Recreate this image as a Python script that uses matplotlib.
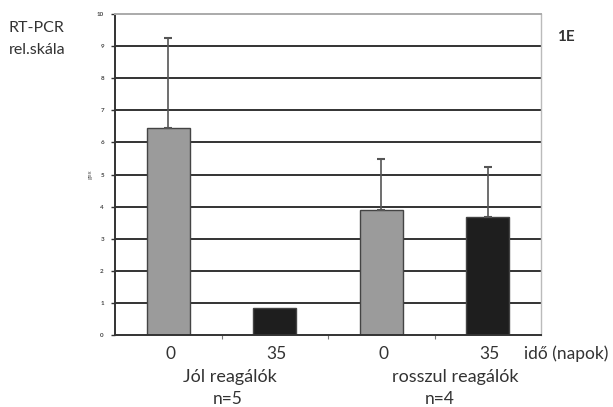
import matplotlib.pyplot as plt
import numpy as np

days = ["0", "35", "0", "35"]
means = [6.45, 0.85, 3.9, 3.68]
err_top = [9.25, None, 5.48, 5.23]
colors = ["#9b9b9b", "#1e1e1e", "#9b9b9b", "#1e1e1e"]
groups = ["Jól reagálók", "rosszul reagálók"]
ns = ["n=5", "n=4"]

plt.rcParams["font.family"] = ["Lato", "DejaVu Sans"]

fig = plt.figure(figsize=(6.13, 4.07), dpi=100)
ax = fig.add_axes([0.1876, 0.1769, 0.695, 0.7887])

x = np.arange(len(means))
yerr = [0 if e is None else e - m for m, e in zip(means, err_top)]

for y in range(1, 10):
    ax.axhline(y, color="#333333", lw=1.4, zorder=1)

ax.bar(x, means, width=0.4, color=colors, edgecolor="#444444", lw=1, zorder=2)
for xi, m, e in zip(x, means, yerr):
    if e > 0:
        ax.errorbar(xi, m, yerr=[[0], [e]], fmt="none", ecolor="#555555",
                    elinewidth=1.2, capsize=3, capthick=1.5, zorder=3)

ax.set_xlim(-0.5, 3.5)
ax.set_ylim(0, 10)
ax.set_yticks(range(0, 11))
ax.tick_params(axis="y", labelsize=4.5, labelcolor="#444444", length=3, width=1,
               color="#333333", pad=5)
for lab in ax.get_yticklabels():
    lab.set_fontweight("bold")
ax.set_xticks([0.5, 1.5, 2.5])
ax.set_xticklabels([])
ax.tick_params(axis="x", length=3, width=0.8, color="#777777")
ax.set_ylabel("gex", fontsize=4.5, color="#555555", labelpad=3)

ax.spines["left"].set_color("#333333")
ax.spines["left"].set_linewidth(1.4)
ax.spines["bottom"].set_color("#333333")
ax.spines["bottom"].set_linewidth(1.4)
ax.spines["top"].set_color("#aaaaaa")
ax.spines["top"].set_linewidth(1.4)
ax.spines["right"].set_color("#bbbbbb")
ax.spines["right"].set_linewidth(1)

tc = "#333333"
for xi, d in zip(x, days):
    ax.text(xi + 0.02, -0.6, d, ha="center", va="center", fontsize=12.5, color=tc)
fig.text(608 / 613, 1 - 354 / 407, "idő (napok)", ha="right", va="center",
         fontsize=12.5, color=tc)
for gx, nx, g, n in zip([0.58, 2.69], [0.556, 2.55], groups, ns):
    ax.text(gx, -1.31, g, ha="center", va="center", fontsize=13, color=tc)
    ax.text(nx, -1.98, n, ha="center", va="center", fontsize=12.5, color=tc)

fig.text(9 / 613, 1 - 28 / 407, "RT-PCR", ha="left", va="center", fontsize=11.5, color=tc)
fig.text(9 / 613, 1 - 50 / 407, "rel.skála", ha="left", va="center", fontsize=11.5, color=tc)
fig.text(557 / 613, 1 - 37 / 407, "1E", ha="left", va="center", fontsize=11,
         fontweight="bold", color=tc)

fig.savefig("out.png", dpi=100)
